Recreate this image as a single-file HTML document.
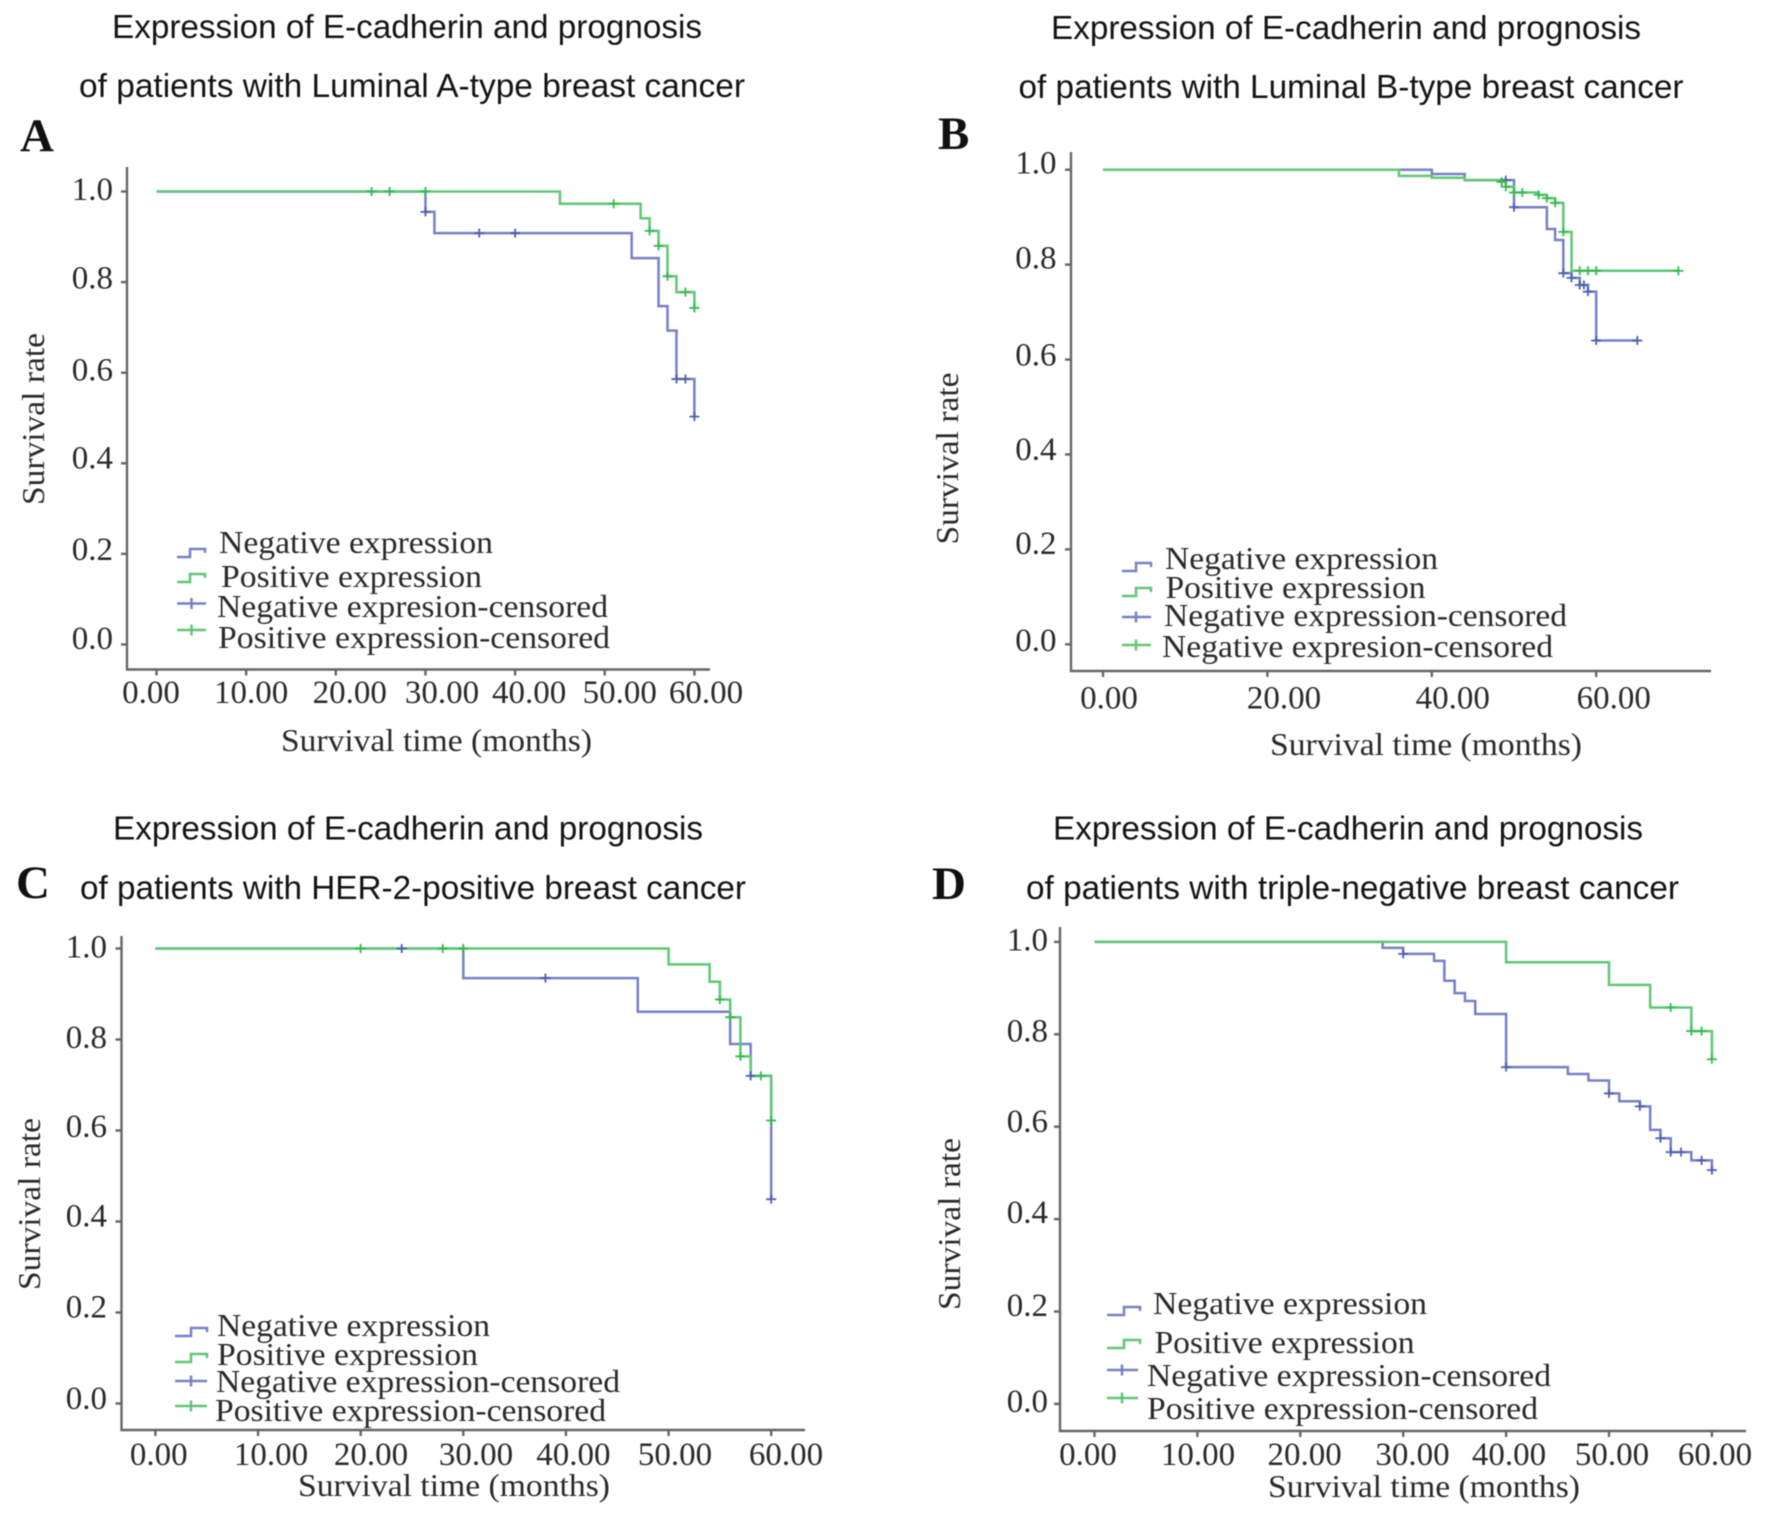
<!DOCTYPE html>
<html lang="en">
<head>
<meta charset="utf-8">
<title>Expression of E-cadherin and prognosis</title>
<style>
html,body{margin:0;padding:0;background:#fff;}
#figure{display:block;width:1772px;height:1520px;filter:blur(0.6px);}
.title{font-family:"Liberation Sans",sans-serif;font-size:33px;fill:#141414;}
.letter{font-family:"Liberation Serif",serif;font-size:47px;font-weight:bold;fill:#111;}
.serif{font-family:"Liberation Serif",serif;font-size:32px;fill:#2a2a2a;}
.tick-label{font-family:"Liberation Serif",serif;font-size:33px;fill:#2a2a2a;}
.neg{fill:none;stroke:#7780c6;stroke-width:2.5;}
.pos{fill:none;stroke:#62c677;stroke-width:2.5;}
.negc{fill:none;stroke:#4f5fb0;stroke-width:1.8;}
.posc{fill:none;stroke:#36b94f;stroke-width:1.8;}
.axis{fill:none;stroke:#666;stroke-width:2.4;}
</style>
</head>
<body>
<svg id="figure" xmlns="http://www.w3.org/2000/svg" width="1772" height="1520" viewBox="0 0 1772 1520">
<rect x="0" y="0" width="1772" height="1520" fill="#fff"/>

<g id="panel-a">
<text class="title" x="112" y="38" textLength="590" lengthAdjust="spacingAndGlyphs">Expression of E-cadherin and prognosis</text>
<text class="title" x="79" y="97" textLength="666" lengthAdjust="spacingAndGlyphs">of patients with Luminal A-type breast cancer</text>
<text class="letter" x="20" y="151">A</text>
<text class="serif" transform="translate(44,419) rotate(-90)" text-anchor="middle" textLength="172" lengthAdjust="spacingAndGlyphs">Survival rate</text>
<text class="serif" x="281" y="751" textLength="311" lengthAdjust="spacingAndGlyphs">Survival time (months)</text>
<g>
<path class="neg" d="M177 557H190V549H205V553"/>
<text class="serif" x="219" y="553" textLength="274" lengthAdjust="spacingAndGlyphs">Negative expression</text>
<path class="pos" d="M177 582H190V574H205V578"/>
<text class="serif" x="221" y="587" textLength="261" lengthAdjust="spacingAndGlyphs">Positive expression</text>
<path class="neg" d="M177 603.500H206M191.500 598V609"/>
<text class="serif" x="217" y="617" textLength="391" lengthAdjust="spacingAndGlyphs">Negative expresion-censored</text>
<path class="pos" d="M177 630H206M191.500 624.500V635.500"/>
<text class="serif" x="218" y="648" textLength="392" lengthAdjust="spacingAndGlyphs">Positive expression-censored</text>
</g>
</g>

<g id="panel-b">
<text class="title" x="1051" y="39" textLength="590" lengthAdjust="spacingAndGlyphs">Expression of E-cadherin and prognosis</text>
<text class="title" x="1018.500" y="98" textLength="665" lengthAdjust="spacingAndGlyphs">of patients with Luminal B-type breast cancer</text>
<text class="letter" x="938" y="149">B</text>
<text class="serif" transform="translate(958,458.500) rotate(-90)" text-anchor="middle" textLength="172" lengthAdjust="spacingAndGlyphs">Survival rate</text>
<text class="serif" x="1270" y="755" textLength="312" lengthAdjust="spacingAndGlyphs">Survival time (months)</text>
<g>
<path class="neg" d="M1122 571H1136V563H1151V567"/>
<text class="serif" x="1165" y="569" textLength="273" lengthAdjust="spacingAndGlyphs">Negative expression</text>
<path class="pos" d="M1122 596H1136V588H1151V592"/>
<text class="serif" x="1165.500" y="598" textLength="260" lengthAdjust="spacingAndGlyphs">Positive expression</text>
<path class="neg" d="M1122 617H1151M1136 611.500V622.500"/>
<text class="serif" x="1164" y="626" textLength="403" lengthAdjust="spacingAndGlyphs">Negative expression-censored</text>
<path class="pos" d="M1122 645H1151M1136 639.500V650.500"/>
<text class="serif" x="1162" y="657" textLength="391" lengthAdjust="spacingAndGlyphs">Negative expresion-censored</text>
</g>
</g>

<g id="panel-c">
<text class="title" x="113" y="839.500" textLength="590" lengthAdjust="spacingAndGlyphs">Expression of E-cadherin and prognosis</text>
<text class="title" x="80" y="899" textLength="666" lengthAdjust="spacingAndGlyphs">of patients with HER-2-positive breast cancer</text>
<text class="letter" x="16" y="898">C</text>
<text class="serif" transform="translate(40,1204) rotate(-90)" text-anchor="middle" textLength="172" lengthAdjust="spacingAndGlyphs">Survival rate</text>
<text class="serif" x="298" y="1496" textLength="312" lengthAdjust="spacingAndGlyphs">Survival time (months)</text>
<g>
<path class="neg" d="M175 1336H191V1328H207V1332"/>
<text class="serif" x="217" y="1336" textLength="273" lengthAdjust="spacingAndGlyphs">Negative expression</text>
<path class="pos" d="M175 1362H191V1354H207V1358"/>
<text class="serif" x="217" y="1365" textLength="261" lengthAdjust="spacingAndGlyphs">Positive expression</text>
<path class="neg" d="M175 1381H207M191 1375.500V1386.500"/>
<text class="serif" x="216" y="1392" textLength="404" lengthAdjust="spacingAndGlyphs">Negative expression-censored</text>
<path class="pos" d="M175 1406H207M191 1400.500V1411.500"/>
<text class="serif" x="215" y="1421" textLength="391" lengthAdjust="spacingAndGlyphs">Positive expression-censored</text>
</g>
</g>

<g id="panel-d">
<text class="title" x="1053" y="839.500" textLength="590" lengthAdjust="spacingAndGlyphs">Expression of E-cadherin and prognosis</text>
<text class="title" x="1026" y="899" textLength="653" lengthAdjust="spacingAndGlyphs">of patients with triple-negative breast cancer</text>
<text class="letter" x="932" y="899">D</text>
<text class="serif" transform="translate(960,1224) rotate(-90)" text-anchor="middle" textLength="172" lengthAdjust="spacingAndGlyphs">Survival rate</text>
<text class="serif" x="1268" y="1497" textLength="312" lengthAdjust="spacingAndGlyphs">Survival time (months)</text>
<g>
<path class="neg" d="M1107 1315H1124V1307H1140V1311"/>
<text class="serif" x="1153" y="1314" textLength="274" lengthAdjust="spacingAndGlyphs">Negative expression</text>
<path class="pos" d="M1107 1348H1124V1340H1140V1344"/>
<text class="serif" x="1154.500" y="1353" textLength="260" lengthAdjust="spacingAndGlyphs">Positive expression</text>
<path class="neg" d="M1107 1370H1138M1122 1364.500V1375.500"/>
<text class="serif" x="1147" y="1386" textLength="404" lengthAdjust="spacingAndGlyphs">Negative expression-censored</text>
<path class="pos" d="M1107 1398H1138M1122 1392.500V1403.500"/>
<text class="serif" x="1147" y="1419" textLength="391" lengthAdjust="spacingAndGlyphs">Positive expression-censored</text>
</g>
</g>
</svg>

<script>
// Shared y-axis values
const yTickValues = [0, 0.2, 0.4, 0.6, 0.8, 1.0];
const yTickLabels = ['0.0', '0.2', '0.4', '0.6', '0.8', '1.0'];

// Panel A values
const aXTickValues = [0, 10, 20, 30, 40, 50, 60];
const aXTickLabels = ['0.00', '10.00', '20.00', '30.00', '40.00', '50.00', '60.00'];
const aNegTimes = [0, 30, 31, 53, 56, 57, 58, 60];
const aNegSurvival = [1, 0.955, 0.908, 0.853, 0.747, 0.693, 0.586, 0.503];
const aPosTimes = [0, 45, 54, 55, 56, 57, 58, 60];
const aPosSurvival = [1, 0.973, 0.941, 0.913, 0.88, 0.813, 0.778, 0.743];
const aNegCensoredTimes = [30, 36, 40, 58, 59, 60];
const aNegCensoredSurvival = [0.955, 0.908, 0.908, 0.586, 0.586, 0.503];
const aPosCensoredTimes = [24, 26, 30, 51, 55, 56, 57, 59, 60];
const aPosCensoredSurvival = [1, 1, 1, 0.973, 0.913, 0.88, 0.813, 0.778, 0.743];

// Panel B values
const bXTickValues = [0, 20, 40, 60];
const bXTickLabels = ['0.00', '20.00', '40.00', '60.00'];
const bNegTimes = [0, 40, 44, 50, 54, 55, 56, 57, 58, 59, 60];
const bNegSurvival = [1, 0.991, 0.978, 0.921, 0.875, 0.852, 0.782, 0.772, 0.757, 0.743, 0.64];
const bPosTimes = [0, 36, 40, 44, 48, 49, 50, 53, 54, 55, 56, 57];
const bPosSurvival = [1, 0.987, 0.983, 0.978, 0.975, 0.964, 0.952, 0.947, 0.94, 0.93, 0.869, 0.787];
const bNegCensoredTimes = [49, 50, 56, 57, 58, 58.5, 59, 60, 65];
const bNegCensoredSurvival = [0.978, 0.921, 0.782, 0.772, 0.757, 0.757, 0.743, 0.64, 0.64];
const bPosCensoredTimes = [48.5, 49, 50, 51, 53, 54, 55, 56, 58, 59, 60, 70];
const bPosCensoredSurvival = [0.975, 0.964, 0.952, 0.952, 0.947, 0.94, 0.93, 0.869, 0.787, 0.787, 0.787, 0.787];

// Panel C values
const cXTickValues = [0, 10, 20, 30, 40, 50, 60];
const cXTickLabels = ['0.00', '10.00', '20.00', '30.00', '40.00', '50.00', '60.00'];
const cNegTimes = [0, 30, 47, 56, 58, 60];
const cNegSurvival = [1, 0.935, 0.861, 0.79, 0.72, 0.449];
const cPosTimes = [0, 50, 54, 55, 56, 57, 58, 60];
const cPosSurvival = [1, 0.965, 0.927, 0.888, 0.849, 0.763, 0.72, 0.622];
const cNegCensoredTimes = [24, 38, 58, 60];
const cNegCensoredSurvival = [1, 0.935, 0.72, 0.449];
const cPosCensoredTimes = [20, 28, 30, 55, 56, 57, 59, 60];
const cPosCensoredSurvival = [1, 1, 1, 0.888, 0.849, 0.763, 0.72, 0.622];

// Panel D values
const dXTickValues = [0, 10, 20, 30, 40, 50, 60];
const dXTickLabels = ['0.00', '10.00', '20.00', '30.00', '40.00', '50.00', '60.00'];
const dNegTimes = [0, 28, 30, 33, 34, 35, 36, 37, 40, 46, 48, 50, 51, 53, 54, 55, 56, 58, 60];
const dNegSurvival = [1, 0.987, 0.974, 0.959, 0.916, 0.889, 0.872, 0.844, 0.729, 0.714, 0.7, 0.672, 0.655, 0.644, 0.593, 0.575, 0.545, 0.527, 0.506];
const dPosTimes = [0, 40, 50, 54, 58, 60];
const dPosSurvival = [1, 0.956, 0.907, 0.858, 0.807, 0.746];
const dNegCensoredTimes = [30, 40, 50, 53, 55, 56, 57, 59, 60];
const dNegCensoredSurvival = [0.974, 0.729, 0.672, 0.644, 0.575, 0.545, 0.545, 0.527, 0.506];
const dPosCensoredTimes = [56, 58, 59, 60];
const dPosCensoredSurvival = [0.858, 0.807, 0.807, 0.746];

const SVG_NS = 'http://www.w3.org/2000/svg';

function makeXScale(layout) {
  return function (t) {
    return layout.x0 + (t - layout.t0) * (layout.x1 - layout.x0) / (layout.t1 - layout.t0);
  };
}
function makeYScale(layout) {
  return function (s) {
    return layout.y0 + s * (layout.y1 - layout.y0);
  };
}

function addPath(parent, cls, d) {
  const el = document.createElementNS(SVG_NS, 'path');
  el.setAttribute('class', cls);
  el.setAttribute('d', d);
  parent.appendChild(el);
  return el;
}

function drawPanel(p) {
  const root = document.getElementById(p.id);
  const L = p.layout;
  const x = makeXScale(L);
  const y = makeYScale(L);

  const axes = document.createElementNS(SVG_NS, 'g');
  
  
  root.appendChild(axes);

  const axisLine = addPath(axes, 'axis', 'M' + L.axisX + ' ' + L.axisTop + 'V' + L.axisY + 'H' + L.axisRight);
  
  

  p.yValues.forEach(function (v, i) {
    const mark = addPath(axes, 'axis', 'M' + (L.axisX - 6) + ' ' + y(v) + 'H' + L.axisX);
    
    
    const label = document.createElementNS(SVG_NS, 'text');
    label.setAttribute('class', 'tick-label');
    label.setAttribute('text-anchor', 'end');
    label.setAttribute('x', L.yLabelRight);
    label.setAttribute('y', y(v) + L.yLabelNudge[i] + 10);
    
    
    label.textContent = p.yLabels[i];
    axes.appendChild(label);
  });

  p.xValues.forEach(function (v, i) {
    const mark = addPath(axes, 'axis', 'M' + x(v) + ' ' + L.axisY + 'v6');
    
    
    const label = document.createElementNS(SVG_NS, 'text');
    label.setAttribute('class', 'tick-label');
    label.setAttribute('text-anchor', 'middle');
    label.setAttribute('x', x(v) + L.xLabelNudge[i]);
    label.setAttribute('y', L.xLabelY);
    
    
    label.textContent = p.xLabels[i];
    axes.appendChild(label);
  });

  function stepPath(times, surv, censoredTimes) {
    let d = 'M' + x(times[0]) + ' ' + y(surv[0]);
    for (let i = 1; i < times.length; i++) {
      d += 'H' + x(times[i]) + 'V' + y(surv[i]);
    }
    const end = Math.max.apply(null, times.concat(censoredTimes));
    d += 'H' + x(end);
    return d;
  }

  const negCurve = addPath(root, 'neg', stepPath(p.negT, p.negS, p.negCT));
  
  

  const posCurve = addPath(root, 'pos', stepPath(p.posT, p.posS, p.posCT));
  
  

  p.negCT.forEach(function (t, i) {
    const c = addPath(root, 'negc', 'M' + (x(t) - 5) + ' ' + y(p.negCS[i]) + 'h10M' + x(t) + ' ' + (y(p.negCS[i]) - 4.5) + 'v9');
    
    
  });
  p.posCT.forEach(function (t, i) {
    const c = addPath(root, 'posc', 'M' + (x(t) - 5) + ' ' + y(p.posCS[i]) + 'h10M' + x(t) + ' ' + (y(p.posCS[i]) - 4.5) + 'v9');
    
    
  });
}

drawPanel({
  id: 'panel-a', key: 'panel-a',
  xValues: aXTickValues, xLabels: aXTickLabels, yValues: yTickValues, yLabels: yTickLabels,
  negT: aNegTimes, negS: aNegSurvival, posT: aPosTimes, posS: aPosSurvival,
  negCT: aNegCensoredTimes, negCS: aNegCensoredSurvival, posCT: aPosCensoredTimes, posCS: aPosCensoredSurvival,
  layout: { t0: 0, t1: 60, x0: 156.5, x1: 694.4, y0: 644.5, y1: 191.5, axisX: 127, axisTop: 167, axisY: 669.5, axisRight: 710,
    yLabelRight: 113, yLabelNudge: [-5.5, -4, -4.6, -2, -3.4, -1.5], xLabelNudge: [-5.5, 5, 14, 16.5, 14, 15, 11.6], xLabelY: 703 }
});
drawPanel({
  id: 'panel-b', key: 'panel-b',
  xValues: bXTickValues, xLabels: bXTickLabels, yValues: yTickValues, yLabels: yTickLabels,
  negT: bNegTimes, negS: bNegSurvival, posT: bPosTimes, posS: bPosSurvival,
  negCT: bNegCensoredTimes, negCS: bNegCensoredSurvival, posCT: bPosCensoredTimes, posCS: bPosCensoredSurvival,
  layout: { t0: 0, t1: 60, x0: 1103, x1: 1596.2, y0: 644.3, y1: 169.7, axisX: 1071, axisTop: 152, axisY: 671, axisRight: 1711,
    yLabelRight: 1056.5, yLabelNudge: [-3.5, -5.6, -4.4, -4, -6, -6], xLabelNudge: [6, 16.6, 21, 17.5], xLabelY: 708.5 }
});
drawPanel({
  id: 'panel-c', key: 'panel-c',
  xValues: cXTickValues, xLabels: cXTickLabels, yValues: yTickValues, yLabels: yTickLabels,
  negT: cNegTimes, negS: cNegSurvival, posT: cPosTimes, posS: cPosSurvival,
  negCT: cNegCensoredTimes, negCS: cNegCensoredSurvival, posCT: cPosCensoredTimes, posCS: cPosCensoredSurvival,
  layout: { t0: 0, t1: 60, x0: 155.4, x1: 771.2, y0: 1403.5, y1: 948.5, axisX: 121.5, axisTop: 936, axisY: 1430, axisRight: 805,
    yLabelRight: 107, yLabelNudge: [-4.5, -5, -5, -3.5, -1.5, -1], xLabelNudge: [3.4, 13, 10.3, 12.7, 7.5, 6.4, 14.8], xLabelY: 1465 }
});
drawPanel({
  id: 'panel-d', key: 'panel-d',
  xValues: dXTickValues, xLabels: dXTickLabels, yValues: yTickValues, yLabels: yTickLabels,
  negT: dNegTimes, negS: dNegSurvival, posT: dPosTimes, posS: dPosSurvival,
  negCT: dNegCensoredTimes, negCS: dNegCensoredSurvival, posCT: dPosCensoredTimes, posCS: dPosCensoredSurvival,
  layout: { t0: 0, t1: 60, x0: 1094.5, x1: 1711.9, y0: 1403.9, y1: 941.9, axisX: 1060, axisTop: 927, axisY: 1431, axisRight: 1746,
    yLabelRight: 1048, yLabelNudge: [-2, -5.5, -6, -4.7, -3, -1.5], xLabelNudge: [-6.5, 0.6, 4.3, 9.3, 2.9, 3, 3.1], xLabelY: 1465 }
});
</script>
</body>
</html>
